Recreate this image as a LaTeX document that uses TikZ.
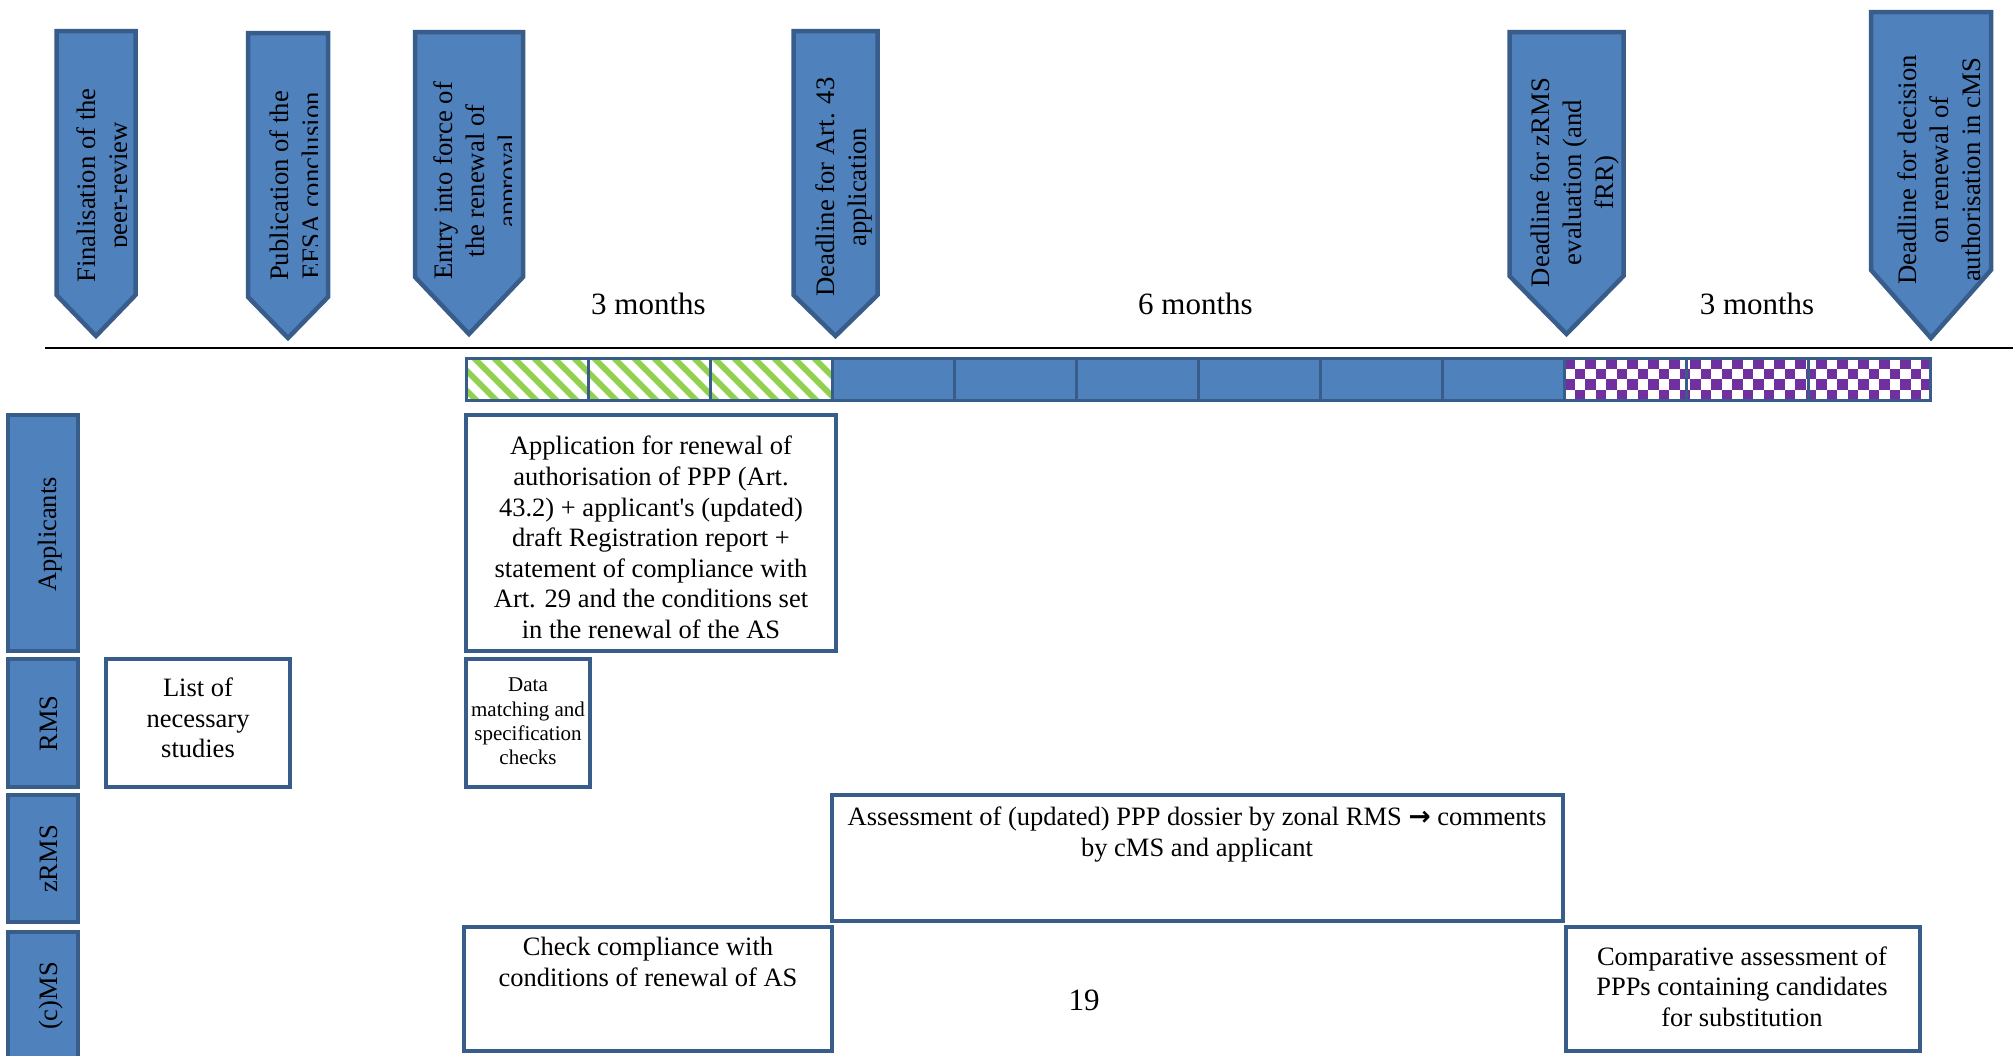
\documentclass[tikz,border=0pt]{standalone}
\usepackage{fontspec}
\setmainfont{Liberation Serif}
\newfontfamily\arrowfont{DejaVu Sans}
\usetikzlibrary{fit}
\definecolor{mainblue}{HTML}{4F81BD}
\definecolor{edgeblue}{HTML}{385D8A}
\definecolor{hatchgreen}{HTML}{92D050}
\definecolor{checkpurple}{HTML}{7030A0}
\newcommand{\milestone}[5]{\draw[marker] (#1,#3) -- (#2,#3) -- (#2,#4) -- ({(#1+#2)/2},#5) -- (#1,#4) -- cycle;}
\newcommand{\straightquote}{\XeTeXglyph\the\XeTeXcharglyph"0027\relax}
\begin{document}
\begin{tikzpicture}[x=0.5pt,y=-0.5pt,
  marker/.style={draw=edgeblue, fill=mainblue, line width=2.25pt, line join=miter},
  lanebox/.style={draw=edgeblue, fill=mainblue, line width=2.25pt, inner sep=0pt, outer sep=0pt},
  whitebox/.style={draw=edgeblue, fill=white, line width=2.25pt, inner sep=0pt, outer sep=0pt},
  cellborder/.style={draw=edgeblue, line width=1.5pt},
  marktxt/.style={font=\fontsize{13.35pt}{16pt}\selectfont, align=center, inner sep=0pt, rotate=90},
  lanetxt/.style={font=\fontsize{13.25pt}{15.3pt}\selectfont, inner sep=0pt, rotate=90, anchor=base},
  bodytxt/.style={font=\fontsize{13.25pt}{15.3pt}\selectfont, align=center, inner sep=0pt},
  smalltxt/.style={font=\fontsize{10.5pt}{12.2pt}\selectfont, align=center, inner sep=0pt},
  monthtxt/.style={font=\fontsize{15.5pt}{18pt}\selectfont, inner sep=0pt, anchor=base}]
\useasboundingbox (0,0) rectangle (2013,1055);
\fill[white] (0,0) rectangle (2013,1055);

% ---------- milestones ----------
\milestone{56.5}{135.5}{31}{295}{336}
\milestone{248}{328}{33}{297}{338}
\milestone{415}{523}{32}{277}{334}
\milestone{793.5}{877.5}{31}{295}{336}
\milestone{1509.5}{1623.5}{32}{276}{334}
\milestone{1871}{1991}{12}{270}{338}

\begin{scope}
  \clip (50,0) rectangle (126,345);
  \node[marktxt] (m1) at (104.7,185.5) {Finalisation of the\\peer-review};
\end{scope}
\begin{scope}
  \clip (240,0) rectangle (317,345);
  \node[marktxt] (m2) at (294.8,186) {Publication of the\\EFSA conclusion};
\end{scope}
\begin{scope}
  \clip (408,0) rectangle (511,345);
  \node[marktxt] (m3) at (477.7,181) {Entry into force of\\the renewal of\\approval};
\end{scope}
\node[marktxt] (m4) at (843.8,187) {Deadline for Art. 43\\application};
\node[marktxt] (m5) at (1574.6,182.5) {Deadline for zRMS\\evaluation (and\\fRR)};
\node[marktxt] (m6) at (1938.9,170) {Deadline for decision\\on renewal of\\authorisation in cMS};

% ---------- months ----------
\node[monthtxt] (mo1) at (648.5,314) {3 months};
\node[monthtxt] (mo2) at (1195.5,314) {6 months};
\node[monthtxt] (mo3) at (1757,314) {3 months};

% ---------- time line ----------
\coordinate (tl0) at (45,348);
\coordinate (tl1) at (2013,348);
\draw[line width=1.3pt, black] (tl0) -- (tl1);

% ---------- bar ----------
\fill[white] (466,358) rectangle (832,400);
\fill[mainblue] (832,358) rectangle (1564,400);
\fill[white] (1564,358) rectangle (1930,400);
\begin{scope}
  \clip (466,358) rectangle (832,400);
  \foreach \k in {-3,...,19}
    \draw[hatchgreen, line width=3pt] ({466+20*\k},350) -- ++(60,60);
\end{scope}
\begin{scope}
  \clip (1564,358) rectangle (1930,400);
  \foreach \j in {0,...,3}{
    \pgfmathtruncatemacro\off{mod(\j,2)}
    \foreach \i in {0,2,...,36}
      \fill[checkpurple] ({1564+10.5*(\i+\off)},{358+10.5*\j}) rectangle ++(10.5,10.5);
  }
\end{scope}
\foreach \k in {0,...,11}
  \draw[cellborder] ({466+122*\k},358) rectangle ++(122,42);

% ---------- lanes ----------
\node[lanebox, fit={(8,415) (78,651)}] (lapp) {};
\node[lanebox, fit={(8,659) (78,787)}] (lrms) {};
\node[lanebox, fit={(8,795) (78,922)}] (lzrms) {};
\node[lanebox, fit={(8,932) (78,1075)}] (lcms) {};
\node[lanetxt] (tapp) at (56,534.5) {Applicants};
\node[lanetxt] (trms) at (57,723.5) {RMS};
\node[lanetxt] (tzrms) at (57,859) {zRMS};
\node[lanetxt] (tcms) at (57,996) {(c)MS};

% ---------- activity boxes ----------
\node[whitebox, fit={(466,415) (836,651)}] (app) {};
\node[bodytxt] (appt) at (651,537.5) {Application for renewal of\\authorisation of PPP (Art.\\43.2) + applicant\straightquote s (updated)\\draft Registration report +\\statement of compliance with\\Art. 29 and the conditions set\\in the renewal of the AS};

\node[whitebox, fit={(106,659) (290,787)}] (list) {};
\node[bodytxt] (listt) at (198,718) {List of\\necessary\\studies};

\node[whitebox, fit={(466,659) (590,787)}] (data) {};
\node[smalltxt] (datat) at (528,721.5) {Data\\matching and\\specification\\checks};

\node[whitebox, fit={(832,795) (1563,921)}] (zrms) {};
\node[bodytxt, anchor=north] (zrmst) at (1197,806.5) {Assessment of (updated) PPP dossier by zonal RMS {\arrowfont\bfseries →} comments\\by cMS and applicant};

\node[whitebox, fit={(464,927) (832,1051)}] (check) {};
\node[bodytxt, anchor=north] (checkt) at (648,937) {Check compliance with\\conditions of renewal of AS};

\node[whitebox, fit={(1566,927) (1920,1051)}] (comp) {};
\node[bodytxt] (compt) at (1742,986.5) {Comparative assessment of\\PPPs containing candidates\\for substitution};

\node[monthtxt] (page) at (1084,1010) {19};
\end{tikzpicture}
\end{document}
